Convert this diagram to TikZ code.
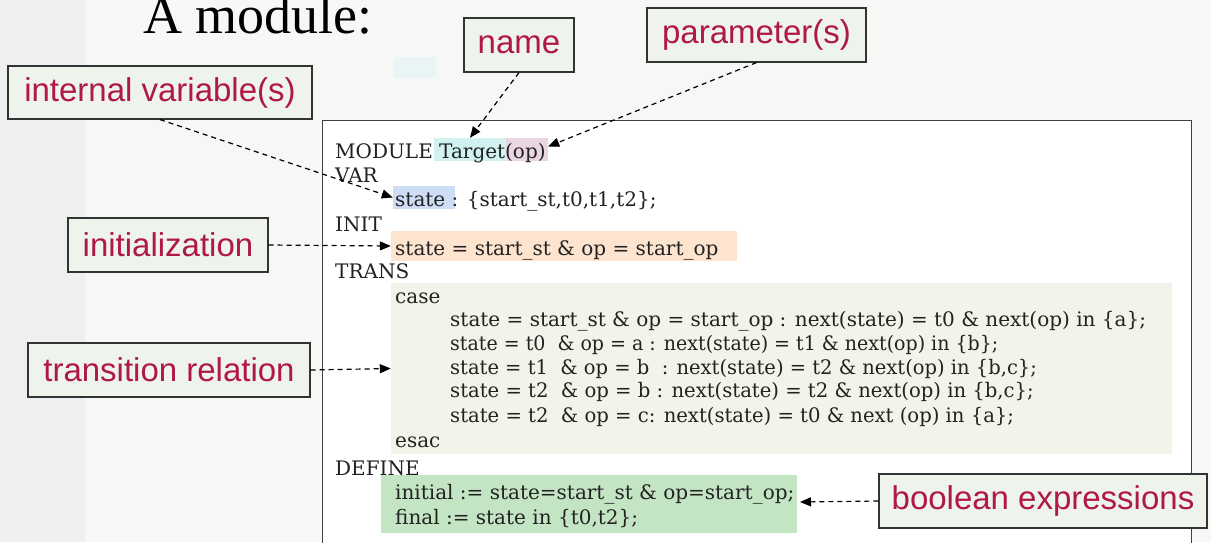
\documentclass[tikz,border=0pt]{standalone}
\usepackage{fontspec}
\setmainfont{Liberation Serif}
\newfontfamily\codefont{DejaVu Serif}
\newfontfamily\labfont{Liberation Sans}
\usetikzlibrary{arrows.meta}
\definecolor{bgc}{HTML}{F7F7F5}
\definecolor{stripc}{HTML}{EEEFEF}
\definecolor{labtext}{HTML}{B0184A}
\definecolor{labfill}{HTML}{EEF3EC}
\definecolor{cyanhl}{HTML}{D2F2F2}
\definecolor{pinkhl}{HTML}{EAD6E2}
\definecolor{bluehl}{HTML}{CCDDF5}
\definecolor{orangehl}{HTML}{FDE4CE}
\definecolor{casehl}{HTML}{F3F3EA}
\definecolor{greenhl}{HTML}{C4E5C4}
\definecolor{faintc}{HTML}{E9F5F5}
\definecolor{codec}{HTML}{222222}
\tikzset{
  labelbox/.style={draw=black!80, line width=1.1pt, fill=labfill, text=labtext,
    font=\labfont\fontsize{33}{36}\selectfont, inner sep=0pt},
  hl/.style={inner sep=0pt, draw=none},
  code/.style={anchor=base west, inner sep=0pt, text=codec,
    font=\codefont\fontsize{20}{24}\selectfont},
  callout/.style={draw=black, line width=1.2pt, dash pattern=on 5pt off 4pt,
    -{Triangle[length=11pt,width=9pt]}}
}
\begin{document}
\begin{tikzpicture}[x=1pt,y=-1pt]
\useasboundingbox (0,0) rectangle (1211,542);
\fill[bgc] (0,0) rectangle (1211,542);
\fill[stripc] (0,0) rectangle (85,542);
\fill[faintc] (394,57) rectangle (436,78);
% title
\node[anchor=base west, inner sep=0pt, font=\fontsize{54}{60}\selectfont] (title) at (143,33) {A module:};
% main box
\fill[white] (322,120) rectangle (1191,560);
\draw[black!75, line width=1pt] (322,560) -- (322,120) -- (1191,120) -- (1191,560);
% highlights
\node[hl, fill=cyanhl, minimum width=72pt, minimum height=23pt] (htarget) at (470,149.5) {};
\node[hl, fill=pinkhl, minimum width=42pt, minimum height=23pt] (hop) at (527,149.5) {};
\node[hl, fill=bluehl, minimum width=62pt, minimum height=23pt] (hstate) at (424,197.5) {};
\node[hl, fill=orangehl, minimum width=346pt, minimum height=30pt] (hinit) at (564,246) {};
\node[hl, fill=casehl, minimum width=781pt, minimum height=171pt] (hcase) at (781.5,368.5) {};
\node[hl, fill=greenhl, minimum width=416pt, minimum height=58pt] (hdef) at (589,504) {};
% code
\node[code] (l1) at (335,158) {MODULE Target(op)};
\node[code] (l2) at (335,182) {VAR};
\node[code] (l3) at (395,206) {state : \{start\_st,t0,t1,t2\};};
\node[code] (l4) at (335,231) {INIT};
\node[code] (l5) at (395,255) {state = start\_st \& op = start\_op};
\node[code] (l6) at (335,278) {TRANS};
\node[code] (l7) at (395,303) {case};
\node[code] (r1) at (450,326) {state = start\_st \& op = start\_op : next(state) = t0 \& next(op) in \{a\};};
\node[code, xscale=0.95] (r2) at (450,350) {state = t0~ \& op = a : next(state) = t1 \& next(op) in \{b\};};
\node[code, xscale=0.975] (r3) at (450,374) {state = t1~ \& op = b~ : next(state) = t2 \& next(op) in \{b,c\};};
\node[code, xscale=0.98] (r4) at (450,397) {state = t2~ \& op = b : next(state) = t2 \& next(op) in \{b,c\};};
\node[code, xscale=0.98] (r5) at (450,422) {state = t2~ \& op = c: next(state) = t0 \& next (op) in \{a\};};
\node[code] (l8) at (395,447) {esac};
\node[code] (l9) at (335,475) {DEFINE};
\node[code] (d1) at (395,499) {initial := state=start\_st \& op=start\_op;};
\node[code] (d2) at (395,524) {final := state in \{t0,t2\};};
% labels
\node[labelbox, minimum width=304pt, minimum height=53pt] (intvar) at (160,92.5) {internal variable(s)};
\node[labelbox, minimum width=110pt, minimum height=54pt] (name) at (519,45) {name};
\node[labelbox, minimum width=219pt, minimum height=54pt] (param) at (756.5,35) {parameter(s)};
\node[labelbox, minimum width=200pt, minimum height=54pt] (init) at (168,245) {initialization};
\node[labelbox, minimum width=282pt, minimum height=54pt] (trans) at (169,370) {transition relation};
\node[labelbox, minimum width=328pt, minimum height=54pt] (bool) at (1043,501) {boolean expressions};
\coordinate (booltip) at (800,502);
% connectors
\draw[callout] (intvar.south) -- (hstate.west);
\draw[callout] (name.south) -- (htarget.north);
\draw[callout] (param.south) -- ([yshift=3pt]hop.east);
\draw[callout] (init.east) -- (hinit.west);
\draw[callout] (trans.east) -- (hcase.west);
\draw[callout] (bool.west) -- (booltip);
\end{tikzpicture}
\end{document}
